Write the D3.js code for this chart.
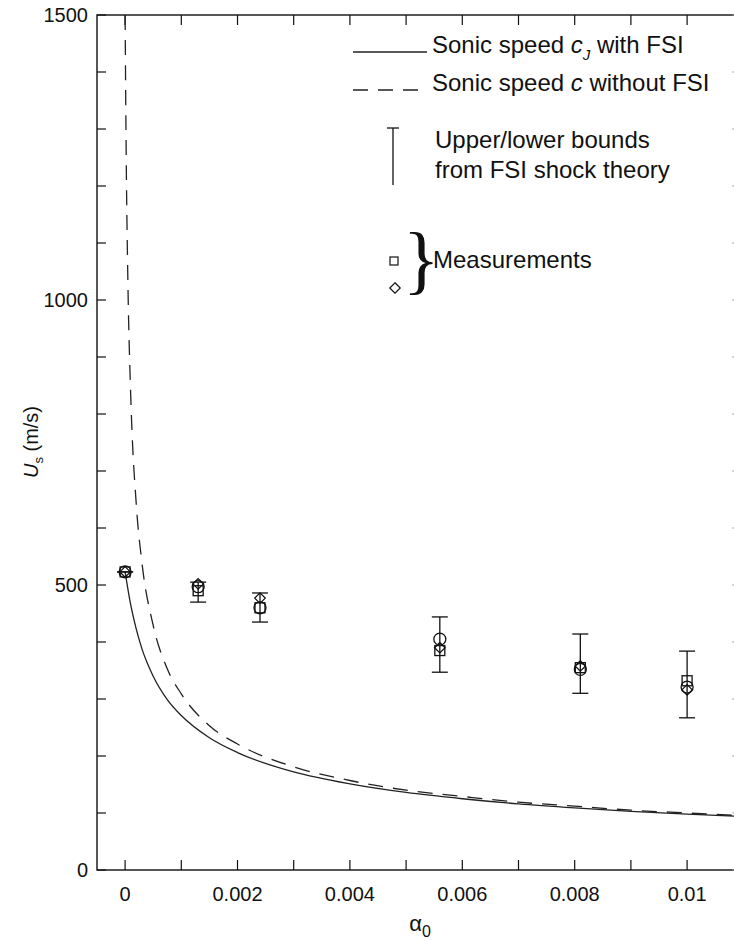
<!DOCTYPE html>
<html>
<head>
<meta charset="utf-8">
<script src="https://cdn.jsdelivr.net/npm/d3@7"></script>
<style>
  body { margin: 0; background: #fff; }
  svg { display: block; font-family: Arial, "Liberation Sans", sans-serif; }
</style>
</head>
<body>
<svg width="734" height="941"></svg>
<script>
// sonic speed curves
let alphaFsi = [0, 0.0001, 0.0002, 0.0003, 0.0005, 0.00075, 0.001, 0.0015, 0.002, 0.003, 0.004, 0.005, 0.006, 0.007, 0.008, 0.009, 0.01, 0.011]
let speedFsi = [523, 465, 422, 388, 340, 299, 271, 232, 206, 172, 151, 136, 125, 116, 109, 103, 98, 94]
let alphaNoFsi = [0, 0.00002, 0.00005, 0.0001, 0.0002, 0.0003, 0.0005, 0.00075, 0.001, 0.0015, 0.002, 0.003, 0.004, 0.005, 0.006, 0.007, 0.008, 0.009, 0.01, 0.011]
let speedNoFsi = [1500, 1250, 1030, 833, 640, 539, 429, 353, 309, 253, 221, 181, 157, 140, 129, 119, 112, 105, 100, 95]

// measurements
let alphaMeas = [0, 0.0013, 0.0024, 0.0056, 0.0081, 0.01]
let circleU = [523, 497, 460, 405, 352, 321]
let squareU = [523, 490, 460, 385, 355, 332]
let diamondU = [523, 502, 477, 390, 358, 316]
// upper/lower bounds from FSI shock theory
let boundLow = [523, 470, 435, 347, 310, 267]
let boundHigh = [523, 505, 486, 444, 414, 384]

let xTicks = [0, 0.002, 0.004, 0.006, 0.008, 0.01]
let yTicks = [0, 500, 1000, 1500]

let svg = d3.select('svg')
let plotL = 97, plotT = 15, plotB = 870
let x = d3.scaleLinear().domain([-0.0005, 0.011]).range([plotL, plotL + 0.0115 * 56200])
let y = d3.scaleLinear().domain([0, 1500]).range([plotB, plotT])
let plotR = x(0.011)
let ink = '#111'

// frame
svg.append('rect')
  .attr('x', plotL).attr('y', plotT)
  .attr('width', plotR - plotL).attr('height', plotB - plotT)
  .attr('fill', 'none').attr('stroke', ink).attr('stroke-width', 1.4)

let xMinor = d3.range(0, 0.0115, 0.001)
let yMinor = d3.range(0, 1501, 100)

// inward ticks on all four sides
svg.append('g').selectAll('line').data(xMinor).join('line')
  .attr('x1', d => x(d)).attr('x2', d => x(d))
  .attr('y1', plotB).attr('y2', plotB - 10)
  .attr('stroke', ink).attr('stroke-width', 1.2)
svg.append('g').selectAll('line').data(xMinor).join('line')
  .attr('x1', d => x(d)).attr('x2', d => x(d))
  .attr('y1', plotT).attr('y2', plotT + 10)
  .attr('stroke', ink).attr('stroke-width', 1.2)
svg.append('g').selectAll('line').data(yMinor).join('line')
  .attr('x1', plotL).attr('x2', plotL + 9)
  .attr('y1', d => y(d)).attr('y2', d => y(d))
  .attr('stroke', ink).attr('stroke-width', 1.2)
svg.append('g').selectAll('line').data(yMinor).join('line')
  .attr('x1', plotR).attr('x2', plotR - 11)
  .attr('y1', d => y(d)).attr('y2', d => y(d))
  .attr('stroke', '#999').attr('stroke-width', 1.2)

// tick labels
svg.append('g').selectAll('text').data(xTicks).join('text')
  .attr('x', d => x(d)).attr('y', 901)
  .attr('text-anchor', 'middle').attr('font-size', 20).attr('fill', ink)
  .text(d => d3.format('~g')(d))
svg.append('g').selectAll('text').data(yTicks).join('text')
  .attr('x', 88).attr('y', d => y(d) + 7)
  .attr('text-anchor', 'end').attr('font-size', 20).attr('fill', ink)
  .text(d => d)

// axis titles
let xt = svg.append('text').attr('x', 420).attr('y', 931)
  .attr('text-anchor', 'middle').attr('font-size', 22).attr('fill', ink)
xt.append('tspan').text('α')
xt.append('tspan').attr('font-size', 16).attr('dy', 6).text('0')

let yt = svg.append('text').attr('transform', 'translate(38,442) rotate(-90)')
  .attr('text-anchor', 'middle').attr('font-size', 20).attr('fill', ink)
yt.append('tspan').attr('font-style', 'italic').text('U')
yt.append('tspan').attr('font-size', 13).attr('dy', 5).text('s')
yt.append('tspan').attr('dy', -5).text(' (m/s)')

// curves
let clip = svg.append('clipPath').attr('id', 'plot')
clip.append('rect').attr('x', plotL).attr('y', plotT).attr('width', plotR - plotL).attr('height', plotB - plotT)

let line = d3.line().x(d => x(d[0])).y(d => y(d[1])).curve(d3.curveMonotoneX)
svg.append('path')
  .attr('clip-path', 'url(#plot)')
  .attr('d', line(d3.zip(alphaNoFsi, speedNoFsi)))
  .attr('fill', 'none').attr('stroke', '#222').attr('stroke-width', 1.3)
  .attr('stroke-dasharray', '15,10')
svg.append('path')
  .attr('clip-path', 'url(#plot)')
  .attr('d', line(d3.zip(alphaFsi, speedFsi)))
  .attr('fill', 'none').attr('stroke', '#222').attr('stroke-width', 1.3)

// error bars
let bars = svg.append('g').attr('stroke', ink).attr('stroke-width', 1.3)
alphaMeas.forEach((a, i) => {
  bars.append('line').attr('x1', x(a)).attr('x2', x(a)).attr('y1', y(boundLow[i])).attr('y2', y(boundHigh[i]))
  bars.append('line').attr('x1', x(a) - 8).attr('x2', x(a) + 8).attr('y1', y(boundLow[i])).attr('y2', y(boundLow[i]))
  bars.append('line').attr('x1', x(a) - 8).attr('x2', x(a) + 8).attr('y1', y(boundHigh[i])).attr('y2', y(boundHigh[i]))
})

// markers
let marks = svg.append('g').attr('fill', 'none').attr('stroke', ink).attr('stroke-width', 1.3)
marks.selectAll('circle').data(d3.zip(alphaMeas, circleU)).join('circle')
  .attr('cx', d => x(d[0])).attr('cy', d => y(d[1])).attr('r', 6)
marks.selectAll('rect').data(d3.zip(alphaMeas, squareU)).join('rect')
  .attr('x', d => x(d[0]) - 5).attr('y', d => y(d[1]) - 5).attr('width', 10).attr('height', 10)
let diamond = d3.symbol().type(d3.symbolDiamond2).size(70)
marks.selectAll('path').data(d3.zip(alphaMeas, diamondU)).join('path')
  .attr('transform', d => `translate(${x(d[0])},${y(d[1])})`)
  .attr('d', diamond)

// legend
let lg = svg.append('g').attr('font-size', 24).attr('fill', ink)
lg.append('line').attr('x1', 353).attr('x2', 427).attr('y1', 52).attr('y2', 52)
  .attr('stroke', '#222').attr('stroke-width', 1.3)
lg.append('line').attr('x1', 353).attr('x2', 427).attr('y1', 90).attr('y2', 90)
  .attr('stroke', '#222').attr('stroke-width', 1.3).attr('stroke-dasharray', '15,10')
let t1 = lg.append('text').attr('x', 432).attr('y', 53)
t1.append('tspan').text('Sonic speed ')
t1.append('tspan').attr('font-style', 'italic').text('c')
t1.append('tspan').attr('font-style', 'italic').attr('font-size', 15).attr('dy', 7).text('J')
t1.append('tspan').attr('dy', -7).text(' with FSI')
let t2 = lg.append('text').attr('x', 432).attr('y', 91)
t2.append('tspan').text('Sonic speed ')
t2.append('tspan').attr('font-style', 'italic').text('c')
t2.append('tspan').text(' without FSI')

lg.append('line').attr('x1', 393).attr('x2', 393).attr('y1', 128).attr('y2', 185)
  .attr('stroke', ink).attr('stroke-width', 1.3)
lg.append('line').attr('x1', 387).attr('x2', 399).attr('y1', 128).attr('y2', 128)
  .attr('stroke', ink).attr('stroke-width', 1.3)
lg.append('text').attr('x', 435).attr('y', 148).text('Upper/lower bounds')
lg.append('text').attr('x', 435).attr('y', 178).text('from FSI shock theory')

lg.append('rect').attr('x', 390).attr('y', 257).attr('width', 8).attr('height', 8)
  .attr('fill', 'none').attr('stroke', ink).attr('stroke-width', 1.2)
lg.append('path').attr('transform', 'translate(395,288)').attr('d', diamond)
  .attr('fill', 'none').attr('stroke', ink).attr('stroke-width', 1.2)
lg.append('text').attr('x', 403).attr('y', 285)
  .attr('font-family', '"Liberation Serif", serif').attr('font-size', 76).text('}')
lg.append('text').attr('x', 433).attr('y', 268).text('Measurements')
</script>
</body>
</html>
